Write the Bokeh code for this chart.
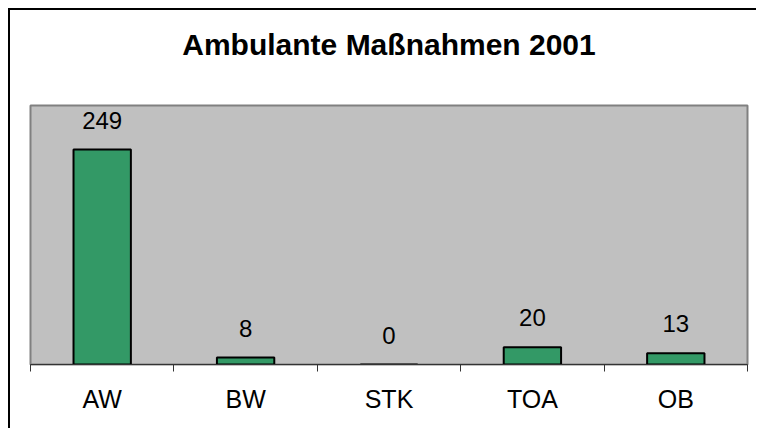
from bokeh.plotting import figure
from bokeh.models import ColumnDataSource, Range1d, FixedTicker, LabelSet, LinearAxis, Title
from bokeh.core.properties import value
from bokeh.embed import file_html
from bokeh.resources import INLINE

categories = ["AW", "BW", "STK", "TOA", "OB"]
values = [249, 8, 0, 20, 13]
title_text = "Ambulante Maßnahmen 2001"
y_max = 300

positions = [i + 0.5 for i in range(len(categories))]
source = ColumnDataSource(data=dict(x=positions, top=values, label=[str(v) for v in values]))

p = figure(width=748, height=420, output_backend="svg", toolbar_location=None,
           x_range=Range1d(0, len(categories)), y_range=Range1d(0, y_max),
           x_axis_location=None, y_axis_location=None,
           min_border_left=20, min_border_right=11, min_border_top=94, min_border_bottom=66)
p.styles = {"margin-left": "10px", "margin-top": "10px",
            "box-shadow": "-2px -2px 0px 0px black"}

p.background_fill_color = "#C0C0C0"
p.border_fill_color = "white"
p.outline_line_color = "#808080"
p.outline_line_width = 2
p.grid.visible = False

# spacer between title and plot area, then the title itself
spacer = Title(text=" ", text_font="Liberation Sans", text_font_size="20px", standoff=2)
p.add_layout(spacer, "above")
title = Title(text=title_text, align="center", vertical_align="top", standoff=34,
              text_font="Liberation Sans", text_font_size="30px",
              text_font_style="bold", text_color="black")
p.add_layout(title, "above")

p.vbar(x="x", top="top", bottom=0, width=0.4, source=source,
       fill_color="#339966", line_color="black", line_width=2)

labels = LabelSet(x="x", y="top", text="label", source=source, y_offset=21,
                  text_align="center", text_baseline="alphabetic",
                  text_font_size="24px", text_font=value("Liberation Sans"), text_color="black")
p.add_layout(labels)

xaxis = LinearAxis(ticker=FixedTicker(ticks=positions, minor_ticks=list(range(len(categories) + 1))))
xaxis.major_label_overrides = {pos: c for pos, c in zip(positions, categories)}
xaxis.major_tick_line_color = None
xaxis.minor_tick_out = 7
xaxis.minor_tick_in = 0
xaxis.minor_tick_line_color = "#333333"
xaxis.minor_tick_line_width = 1
xaxis.axis_line_color = "#333333"
xaxis.axis_line_width = 1
xaxis.major_label_text_font = "Liberation Sans"
xaxis.major_label_text_font_size = "25px"
xaxis.major_label_text_color = "black"
xaxis.major_label_standoff = 13
p.add_layout(xaxis, "below")

open("out.html", "w").write(file_html(p, INLINE))
